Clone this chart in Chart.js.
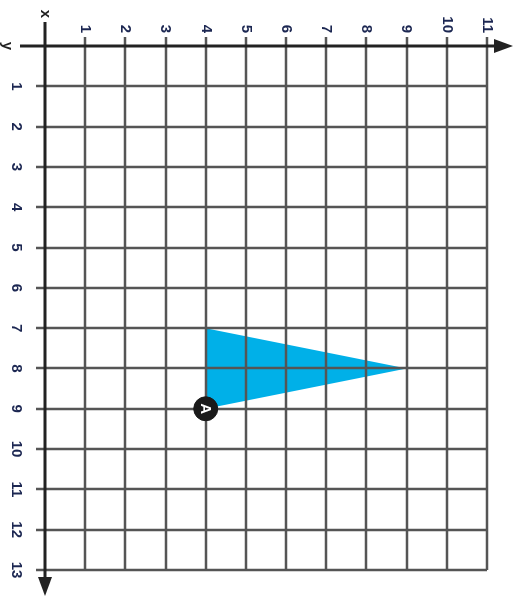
<!DOCTYPE html>
<html>
<head>
<meta charset="utf-8">
<script src="https://cdn.jsdelivr.net/npm/chart.js@4.4.1/dist/chart.umd.min.js"></script>
<style>
  html, body { margin: 0; padding: 0; background: #fff; }
  #wrap { width: 518px; height: 597px; }
</style>
</head>
<body>
<div id="wrap"><canvas id="grafico"></canvas></div>
<script>
// valores
const xTicks = [1, 2, 3, 4, 5, 6, 7, 8, 9, 10, 11];
const yTicks = [1, 2, 3, 4, 5, 6, 7, 8, 9, 10, 11, 12, 13];
const triX = [4, 9, 4];
const triY = [7, 8, 9];
const puntoA = { x: 4, y: 9, label: "A" };

const ROT = Math.PI / 2; // todo el dibujo esta girado 90 grados

const triangulo = triX.map((x, i) => ({ x: x, y: triY[i] }));
triangulo.push(triangulo[0]);

// rejilla, ejes y textos dibujados con las escalas del grafico
const rejilla = {
  id: "rejilla",
  afterDatasetDraw(chart, args) {
    if (args.index !== 0) return;
    const ctx = chart.ctx;
    const sx = chart.scales.x, sy = chart.scales.y;
    const x0 = sx.getPixelForValue(0), y0 = sy.getPixelForValue(0);
    const xMax = sx.getPixelForValue(xTicks[xTicks.length - 1]);
    const yMax = sy.getPixelForValue(yTicks[yTicks.length - 1]);
    ctx.save();
    ctx.strokeStyle = "#555";
    ctx.lineWidth = 2.5;
    xTicks.forEach(v => {
      const p = Math.round(sx.getPixelForValue(v));
      ctx.beginPath(); ctx.moveTo(p, y0 - 9); ctx.lineTo(p, yMax); ctx.stroke();
    });
    yTicks.forEach(v => {
      const p = Math.round(sy.getPixelForValue(v));
      ctx.beginPath(); ctx.moveTo(x0 - 9, p); ctx.lineTo(xMax, p); ctx.stroke();
    });
    // ejes
    ctx.strokeStyle = "#222";
    ctx.fillStyle = "#222";
    ctx.lineWidth = 3;
    ctx.beginPath(); ctx.moveTo(20, y0); ctx.lineTo(500, y0); ctx.stroke();
    ctx.beginPath(); ctx.moveTo(x0, 22); ctx.lineTo(x0, 583); ctx.stroke();
    ctx.beginPath(); ctx.moveTo(513, y0); ctx.lineTo(494, y0 - 7); ctx.lineTo(494, y0 + 7); ctx.closePath(); ctx.fill();
    ctx.beginPath(); ctx.moveTo(x0, 596); ctx.lineTo(x0 - 7, 577); ctx.lineTo(x0 + 7, 577); ctx.closePath(); ctx.fill();
    ctx.restore();
  },
  afterDatasetsDraw(chart) {
    const ctx = chart.ctx;
    const sx = chart.scales.x, sy = chart.scales.y;
    const x0 = sx.getPixelForValue(0), y0 = sy.getPixelForValue(0);
    ctx.save();
    ctx.fillStyle = "#1c2752";
    ctx.font = "bold 15px 'Liberation Sans', Arial, sans-serif";
    ctx.textBaseline = "middle";
    xTicks.forEach(v => {
      ctx.save();
      ctx.translate(sx.getPixelForValue(v), y0 - 13);
      ctx.rotate(ROT);
      ctx.textAlign = "right";
      ctx.fillText(String(v), 0, 0);
      ctx.restore();
    });
    yTicks.forEach(v => {
      ctx.save();
      ctx.translate(16, sy.getPixelForValue(v));
      ctx.rotate(ROT);
      ctx.textAlign = "center";
      ctx.fillText(String(v), 0, 0);
      ctx.restore();
    });
    ctx.fillStyle = "#222";
    ctx.save(); ctx.translate(x0, 14); ctx.rotate(ROT); ctx.textAlign = "center"; ctx.fillText("x", 0, 0); ctx.restore();
    ctx.save(); ctx.translate(7, y0); ctx.rotate(ROT); ctx.textAlign = "center"; ctx.fillText("y", 0, 0); ctx.restore();
    // letra del punto A
    ctx.fillStyle = "#fff";
    ctx.font = "bold 15px 'Liberation Sans', Arial, sans-serif";
    ctx.save();
    ctx.translate(sx.getPixelForValue(puntoA.x), sy.getPixelForValue(puntoA.y));
    ctx.rotate(ROT);
    ctx.textAlign = "center";
    ctx.fillText(puntoA.label, 0, 1);
    ctx.restore();
    ctx.restore();
  }
};

const ctx = document.querySelector("#grafico").getContext("2d");
new Chart(ctx, {
  type: "scatter",
  data: {
    datasets: [
      {
        data: triangulo,
        order: 2,
        showLine: true,
        fill: "shape",
        backgroundColor: "#00b0e8",
        borderColor: "#00b0e8",
        borderWidth: 0,
        pointRadius: 0,
        tension: 0
      },
      {
        data: [{ x: puntoA.x, y: puntoA.y }],
        order: 1,
        pointRadius: 12,
        pointBackgroundColor: "#1a1a1a",
        pointBorderColor: "#1a1a1a",
        pointBorderWidth: 1
      }
    ]
  },
  options: {
    responsive: true,
    maintainAspectRatio: false,
    animation: false,
    layout: { padding: { left: 45, top: 46, right: 31, bottom: 27 } },
    plugins: { legend: { display: false }, tooltip: { enabled: false } },
    scales: {
      x: {
        type: "linear", position: "top", min: 0, max: 11,
        ticks: { display: false, stepSize: 1 },
        grid: { display: false, drawTicks: false }, border: { display: false },
        afterFit: s => { s.height = 0; }
      },
      y: {
        type: "linear", position: "left", min: 0, max: 13, reverse: true,
        ticks: { display: false, stepSize: 1 },
        grid: { display: false, drawTicks: false }, border: { display: false },
        afterFit: s => { s.width = 0; }
      }
    }
  },
  plugins: [rejilla]
});
</script>
</body>
</html>
